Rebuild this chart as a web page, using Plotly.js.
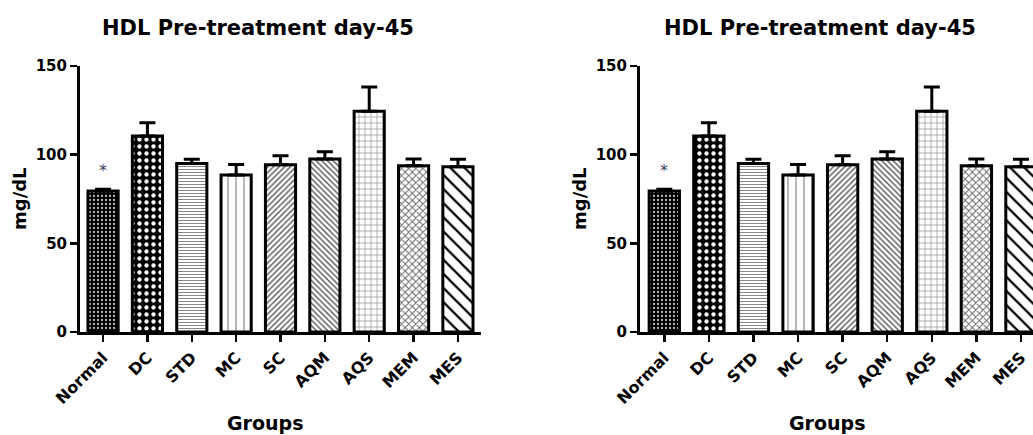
<!DOCTYPE html>
<html>
<head>
<meta charset="utf-8">
<script src="https://cdn.plot.ly/plotly-3.0.1.min.js"></script>
<style>html,body{margin:0;padding:0;background:#fff;}#chart{width:1033px;height:435px;}</style>
</head>
<body>
<div id="chart"></div>
<script>
// ---- data ----
const groups = ["Normal", "DC", "STD", "MC", "SC", "AQM", "AQS", "MEM", "MES"];
const meanHDL = [79.5, 110.5, 95, 88.5, 94.3, 97.6, 124.5, 93.8, 93.2];
const semHDL = [1.0, 7.5, 2.4, 6.0, 5.1, 4.1, 13.6, 3.8, 4.2];
const titleText = "HDL Pre-treatment day-45";
const yTitle = "mg/dL";
const xTitle = "Groups";
const yTicks = [0, 50, 100, 150];
const sigMark = "*";

// ---- styles ----
const patShape = [".", ".", "-", "|", "/", "\\", "+", "x", "\\"];
const patBg = ["#000", "#000", "#fff", "#fff", "#fff", "#fff", "#fff", "#fff", "#fff"];
const patFg = ["#bbb", "#fff", "#888", "#888", "#555", "#555", "#888", "#666", "#000"];
const patSize = [4, 7, 3, 8, 4, 4, 6, 5, 10];
const patSolid = [0.25, 0.3, 0.35, 0.15, 0.35, 0.35, 0.2, 0.35, 0.22];

const W = 1033, H = 435;
const px = v => v / W, py = v => 1 - v / H;
const FAM = "DejaVu Sans, Verdana, sans-serif";

function barTrace(xa, ya) {
  return {
    type: "bar", x: groups, y: meanHDL, xaxis: xa, yaxis: ya,
    width: 0.68,
    marker: {
      color: "#fff",
      line: {color: "#000", width: 3},
      pattern: {shape: patShape, bgcolor: patBg, fgcolor: patFg, size: patSize, solidity: patSolid, fillmode: "replace"}
    },
    error_y: {type: "data", symmetric: false, array: semHDL, arrayminus: groups.map(() => 0), color: "#000", thickness: 3, width: 8},
    hoverinfo: "x+y", showlegend: false
  };
}

const yTickFont = {family: FAM, size: 15, color: "#000", weight: "bold"};
const xTickFont = {family: FAM, size: 16, color: "#000", weight: "bold"};
function xAxis(domain, range, anchor) {
  return {domain: domain, range: range, type: "category", anchor: anchor, showline: true, linecolor: "#000", linewidth: 3,
    ticks: "outside", ticklen: 7, tickwidth: 2.5, tickcolor: "#000", tickangle: -45, tickfont: xTickFont,
    showgrid: false, zeroline: false, fixedrange: true};
}
function yAxis(domain, anchor) {
  return {domain: domain, range: [0, 150], anchor: anchor, showline: true, linecolor: "#000", linewidth: 3,
    ticks: "outside", ticklen: 7, tickwidth: 2.5, tickcolor: "#000", tickvals: yTicks, ticktext: yTicks.map(String),
    tickfont: yTickFont, showgrid: false, zeroline: false, fixedrange: true};
}

const yDom = [py(332), py(66)];
const xa1 = xAxis([px(80), px(481)], [-0.52, 8.52], "y");
const xa2 = xAxis([px(640), 1], [-0.545, 8.27], "y2");
const ya1 = yAxis(yDom, "x");
const ya2 = yAxis(yDom, "x2");

const titleFont = {family: FAM, size: 21, color: "#000", weight: "bold"};
const axTitleFont = {family: FAM, size: 19, color: "#000", weight: "bold"};
const yTitleFont = {family: FAM, size: 18, color: "#000", weight: "bold"};

const annotations = [];
[[258, 20, 265, "x", "y"], [820, 580, 827, "x2", "y2"]].forEach(([tx, yx, gx, xr, yr]) => {
  annotations.push({text: titleText, xref: "paper", yref: "paper", x: px(tx), y: py(28), showarrow: false, font: titleFont, xanchor: "center", yanchor: "middle"});
  annotations.push({text: xTitle, xref: "paper", yref: "paper", x: px(gx), y: py(423), showarrow: false, font: axTitleFont, xanchor: "center", yanchor: "middle"});
  annotations.push({text: yTitle, xref: "paper", yref: "paper", x: px(yx), y: py(199), showarrow: false, font: yTitleFont, textangle: -90, xanchor: "center", yanchor: "middle"});
  annotations.push({text: sigMark, xref: xr, yref: yr, x: groups[0], y: 91, showarrow: false, font: {family: FAM, size: 16, color: "#3b4060"}, xanchor: "center", yanchor: "middle"});
});

const layout = {
  width: W, height: H, margin: {l: 0, r: 0, t: 0, b: 0},
  paper_bgcolor: "#fff", plot_bgcolor: "#fff",
  xaxis: xa1, yaxis: ya1, xaxis2: xa2, yaxis2: ya2,
  annotations: annotations, showlegend: false
};

Plotly.newPlot("chart", [barTrace("x", "y"), barTrace("x2", "y2")], layout, {displayModeBar: false, staticPlot: true});
</script>
</body>
</html>
